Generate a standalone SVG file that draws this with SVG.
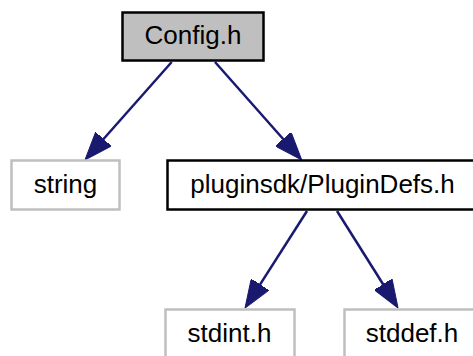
<svg xmlns="http://www.w3.org/2000/svg" width="473" height="356" viewBox="0 0 473 356">
<style>
  .node rect { stroke-width: 2.5; }
  .main rect { fill: #bfbfbf; stroke: #000000; }
  .inc rect { fill: #ffffff; stroke: #000000; }
  .ext rect { fill: #ffffff; stroke: #bfbfbf; }
  .node text { font-family: "Liberation Sans", Arial, Helvetica, sans-serif; font-size: 26px; fill: #000000; text-anchor: middle; }
  .edges path { fill: none; stroke: #191970; stroke-width: 2.5; marker-end: url(#arrow); }
</style>
<defs>
  <marker id="arrow" viewBox="0 0 28 21" refX="18" refY="10.5" markerWidth="28" markerHeight="21" markerUnits="userSpaceOnUse" orient="auto">
    <path d="M0,0 L28,10.5 L0,21 Z" fill="#191970" stroke="#191970" stroke-width="1"/>
  </marker>
</defs>
<rect width="473" height="356" fill="#ffffff"/>
<g id="edges" class="edges">
  <path d="M171.7,62 L91.6,152.5"/>
  <path d="M215,62 L295.1,152.5"/>
  <path d="M307,211 L250.4,299.6"/>
  <path d="M337,211 L392.7,299.5"/>
</g>
<g id="node-config" class="node main">
  <rect x="122.5" y="12.5" width="141" height="48"/>
  <text x="193" y="44">Config.h</text>
</g>
<g id="node-string" class="node ext">
  <rect x="11.5" y="160.5" width="108" height="49"/>
  <text x="65.5" y="193">string</text>
</g>
<g id="node-plugindefs" class="node inc">
  <rect x="167.5" y="160.5" width="310" height="49"/>
  <text x="322.5" y="193">pluginsdk/PluginDefs.h</text>
</g>
<g id="node-stdint" class="node ext">
  <rect x="165.5" y="309.5" width="129" height="49"/>
  <text x="229.5" y="342">stdint.h</text>
</g>
<g id="node-stddef" class="node ext">
  <rect x="344.5" y="309.5" width="136" height="49"/>
  <text x="412" y="342">stddef.h</text>
</g>
</svg>
